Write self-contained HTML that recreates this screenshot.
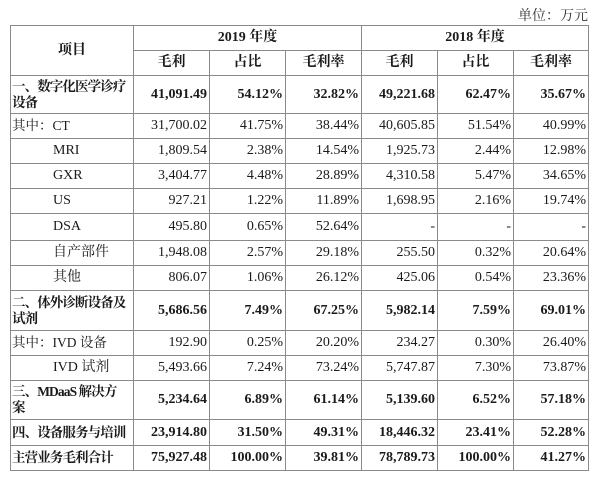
<!DOCTYPE html>
<html><head><meta charset="utf-8"><style>
body{margin:0;width:600px;height:481px;background:#fff;position:relative;overflow:hidden;font-family:"Liberation Serif","Noto Serif CJK SC",serif;color:#1a1a1a}
.unit{position:absolute;right:12px;top:5px;font-size:14px;color:#333}
table{position:absolute;left:10px;top:25px;width:578px;border-collapse:collapse;font-size:14px;table-layout:fixed}
td{border:1px solid #8a8a8a;padding:0 2px;height:24px;text-align:right;line-height:16px;overflow:hidden}
td.l{text-align:left;font-size:13.5px;letter-spacing:-0.9px;padding:0 1px;white-space:normal}
td.i{text-align:left;padding-left:42px}
.b td{font-weight:bold}
.h td{font-weight:bold;text-align:center}
.t{height:37px}
</style></head><body>
<div class="unit">单位：万元</div>
<table>
<colgroup><col style="width:123px"><col style="width:76px"><col style="width:76px"><col style="width:76px"><col style="width:76px"><col style="width:76px"><col style="width:75px"></colgroup>
<tr class="h"><td rowspan="2" style="height:49px">项目</td><td colspan="3">2019 年度</td><td colspan="3">2018 年度</td></tr>
<tr class="h"><td>毛利</td><td>占比</td><td>毛利率</td><td>毛利</td><td>占比</td><td>毛利率</td></tr>
<tr class="b"><td class="l t">一、数字化医学诊疗<br>设备</td><td>41,091.49</td><td>54.12%</td><td>32.82%</td><td>49,221.68</td><td>62.47%</td><td>35.67%</td></tr>
<tr><td class="l" style="letter-spacing:0">其中：CT</td><td>31,700.02</td><td>41.75%</td><td>38.44%</td><td>40,605.85</td><td>51.54%</td><td>40.99%</td></tr>
<tr><td class="i">MRI</td><td>1,809.54</td><td>2.38%</td><td>14.54%</td><td>1,925.73</td><td>2.44%</td><td>12.98%</td></tr>
<tr><td class="i">GXR</td><td>3,404.77</td><td>4.48%</td><td>28.89%</td><td>4,310.58</td><td>5.47%</td><td>34.65%</td></tr>
<tr><td class="i">US</td><td>927.21</td><td>1.22%</td><td>11.89%</td><td>1,698.95</td><td>2.16%</td><td>19.74%</td></tr>
<tr><td class="i" style="height:26px">DSA</td><td>495.80</td><td>0.65%</td><td>52.64%</td><td>-</td><td>-</td><td>-</td></tr>
<tr><td class="i">自产部件</td><td>1,948.08</td><td>2.57%</td><td>29.18%</td><td>255.50</td><td>0.32%</td><td>20.64%</td></tr>
<tr><td class="i">其他</td><td>806.07</td><td>1.06%</td><td>26.12%</td><td>425.06</td><td>0.54%</td><td>23.36%</td></tr>
<tr class="b"><td class="l" style="height:39px">二、体外诊断设备及<br>试剂</td><td>5,686.56</td><td>7.49%</td><td>67.25%</td><td>5,982.14</td><td>7.59%</td><td>69.01%</td></tr>
<tr><td class="l" style="height:22px;letter-spacing:0">其中：IVD 设备</td><td>192.90</td><td>0.25%</td><td>20.20%</td><td>234.27</td><td>0.30%</td><td>26.40%</td></tr>
<tr><td class="i">IVD 试剂</td><td>5,493.66</td><td>7.24%</td><td>73.24%</td><td>5,747.87</td><td>7.30%</td><td>73.87%</td></tr>
<tr class="b"><td class="l" style="height:38px">三、MDaaS 解决方<br>案</td><td>5,234.64</td><td>6.89%</td><td>61.14%</td><td>5,139.60</td><td>6.52%</td><td>57.18%</td></tr>
<tr class="b"><td class="l" style="height:25px;white-space:nowrap">四、设备服务与培训</td><td>23,914.80</td><td>31.50%</td><td>49.31%</td><td>18,446.32</td><td>23.41%</td><td>52.28%</td></tr>
<tr class="b"><td class="l" style="white-space:nowrap">主营业务毛利合计</td><td>75,927.48</td><td>100.00%</td><td>39.81%</td><td>78,789.73</td><td>100.00%</td><td>41.27%</td></tr>
</table>
</body></html>
